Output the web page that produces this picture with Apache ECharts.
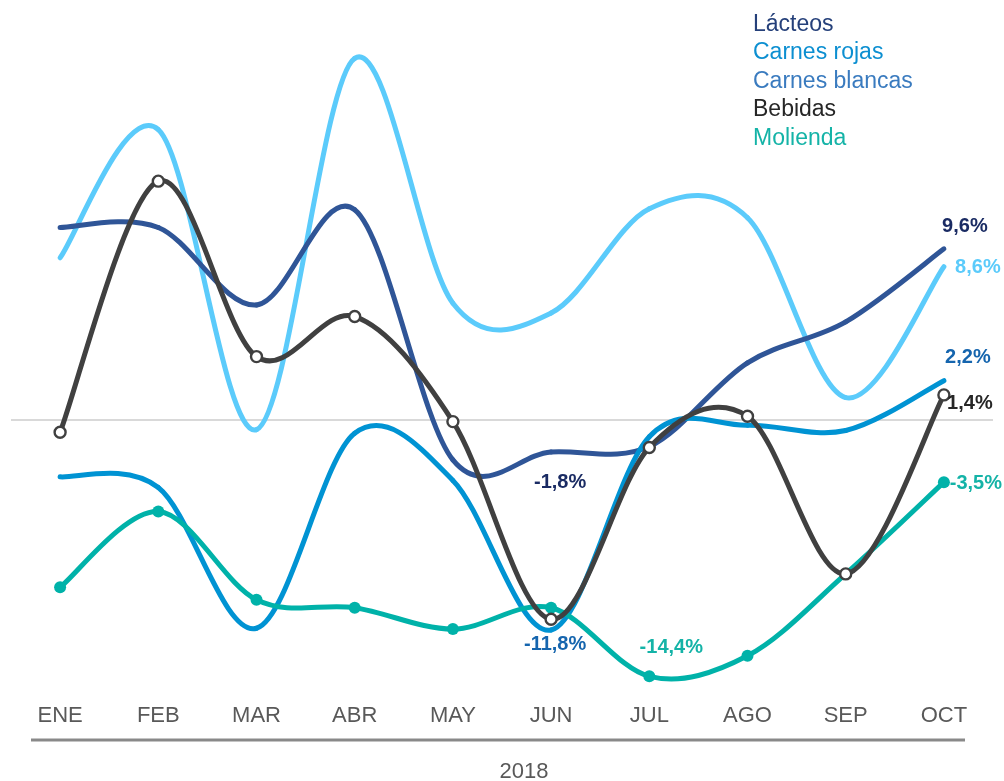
<!DOCTYPE html>
<html><head><meta charset="utf-8">
<script src="https://cdn.jsdelivr.net/npm/echarts@6/dist/echarts.min.js"></script>
<style>html,body{margin:0;padding:0;background:#fff}#c{width:1004px;height:781px}</style>
</head><body><div id="c"></div>
<script>
// ---- data ----
const months = ['ENE','FEB','MAR','ABR','MAY','JUN','JUL','AGO','SEP','OCT'];
const yearLabel = '2018';
const seriesNames = ['Lácteos','Carnes rojas','Carnes blancas','Bebidas','Molienda'];
const lacteos       = [10.8, 10.8, 6.45, 11.8, -2.25, -1.8, -1.5, 3.2, 5.5, 9.6];
const carnesRojas   = [-3.2, -3.8, -11.7, -0.75, -3.4, -11.8, -0.95, -0.3, -0.6, 2.2];
const carnesBlancas = [9.1, 16.3, -0.55, 20.3, 6.55, 6.0, 11.85, 11.35, 1.25, 8.6];
const bebidas       = [-0.7, 13.4, 3.55, 5.8, -0.1, -11.2, -1.55, 0.2, -8.65, 1.4];
const molienda      = [-9.4, -5.15, -10.1, -10.55, -11.75, -10.55, -14.4, -13.25, -8.65, -3.5];

// ---- styles ----
const FONT = '"Liberation Sans", Arial, sans-serif';
const LINE_W = 5;
const lineColors = {'Lácteos':'#2F5597','Carnes rojas':'#0093D3','Carnes blancas':'#5BCBFB','Bebidas':'#404040','Molienda':'#00B2A9'};
const legendColors = {'Lácteos':'#25407A','Carnes rojas':'#0C8FD1','Carnes blancas':'#3A7BBF','Bebidas':'#262626','Molienda':'#14B3A7'};
// labelled points: index -> [offsetX, offsetY, color]
const labelSpots = {
  'Lácteos':       {5:[9,31,'#1A2B63'], 9:[21,-22,'#1A2B63']},
  'Carnes rojas':  {5:[4,14,'#1565AE'], 9:[24,-23,'#1565AE']},
  'Carnes blancas':{9:[34,1,'#5BCBFB']},
  'Bebidas':       {9:[26,9,'#262626']},
  'Molienda':      {6:[22,-29,'#14B3A7'], 9:[32,1,'#14B3A7']}
};
const fmt = v => v.toFixed(1).replace('.', ',') + '%';

function buildData(name, values) {
  const spots = labelSpots[name] || {};
  return values.map((v, i) => {
    const s = spots[i];
    if (!s) return {value: v};
    return {value: v, label: {show: true, position: 'inside', offset: [s[0], s[1]],
      color: s[2], fontWeight: 'bold', fontSize: 20, fontFamily: FONT, formatter: p => fmt(p.value)}};
  });
}

// smooth curve (Catmull-Rom style, like spreadsheet smoothing) through the data points,
// every segment placed with the chart's own coordinate system (api.coord)
function curveSeries(name, values, z) {
  const n = values.length;
  return {
    name, type: 'custom', z, silent: true, clip: false,
    data: values.map((v, i) => [i, v]),
    encode: {x: 0, y: 1},
    renderItem: (params, api) => {
      const i = params.dataIndex;
      if (i >= n - 1) return {type: 'group', children: []};
      const P = j => { const k = Math.max(0, Math.min(n - 1, j)); return api.coord([k, values[k]]); };
      const p0 = P(i - 1), p1 = P(i), p2 = P(i + 1), p3 = P(i + 2);
      return {
        type: 'bezierCurve',
        shape: {
          x1: p1[0], y1: p1[1], x2: p2[0], y2: p2[1],
          cpx1: p1[0] + (p2[0] - p0[0]) / 6, cpy1: p1[1] + (p2[1] - p0[1]) / 6,
          cpx2: p2[0] - (p3[0] - p1[0]) / 6, cpy2: p2[1] - (p3[1] - p1[1]) / 6
        },
        style: {stroke: lineColors[name], lineWidth: LINE_W, fill: null, lineCap: 'round'}
      };
    }
  };
}

// markers + labels at the data points
function pointSeries(name, values, z, marker) {
  const base = {
    name, type: 'line', data: buildData(name, values), z, clip: false,
    lineStyle: {width: 0, opacity: 0},
    label: {show: false},
    showSymbol: true, showAllSymbol: true,
    symbol: 'circle', symbolSize: 2,
    itemStyle: {color: lineColors[name]},
    emphasis: {disabled: true}, silent: true
  };
  if (marker === 'hollow') {
    base.symbolSize = 11;
    base.itemStyle = {color: '#ffffff', borderColor: lineColors[name], borderWidth: 2.4};
  } else if (marker === 'filled') {
    base.symbolSize = 12;
    base.itemStyle = {color: lineColors[name], borderWidth: 0};
  }
  return base;
}

const series = [
  curveSeries('Carnes blancas', carnesBlancas, 2),
  curveSeries('Lácteos', lacteos, 3),
  curveSeries('Carnes rojas', carnesRojas, 4),
  curveSeries('Molienda', molienda, 5),
  curveSeries('Bebidas', bebidas, 7),
  Object.assign(pointSeries('Carnes blancas', carnesBlancas, 2.5), {
    markLine: {silent: true, symbol: 'none', z: 1, label: {show: false}, animation: false,
      lineStyle: {color: '#D9D9D9', width: 2, type: 'solid'}, data: [{yAxis: 0}]}
  }),
  pointSeries('Lácteos', lacteos, 3.5),
  pointSeries('Carnes rojas', carnesRojas, 4.5),
  pointSeries('Molienda', molienda, 6, 'filled'),
  pointSeries('Bebidas', bebidas, 8, 'hollow')
];

const chart = echarts.init(document.getElementById('c'), null, {renderer: 'canvas'});
chart.setOption({
  animation: false,
  backgroundColor: '#ffffff',
  textStyle: {fontFamily: FONT},
  grid: {left: 11, right: 11, top: 28, bottom: 94, containLabel: false, outerBoundsMode: 'none'},
  legend: {
    orient: 'vertical', left: 743, top: 5, itemGap: 0, itemWidth: 0, itemHeight: 0,
    icon: 'rect', selectedMode: false,
    textStyle: {fontSize: 23, lineHeight: 28.5, fontFamily: FONT},
    data: seriesNames.map(n => ({name: n, textStyle: {color: legendColors[n]}}))
  },
  xAxis: {
    type: 'category', data: months, boundaryGap: true,
    axisLine: {show: false}, axisTick: {show: false},
    axisLabel: {color: '#595959', fontSize: 22, margin: 18, fontFamily: FONT},
    name: yearLabel, nameLocation: 'middle', nameGap: 74,
    nameTextStyle: {color: '#595959', fontSize: 22, fontFamily: FONT, padding: [0, 0, 0, 44]}
  },
  yAxis: {type: 'value', min: -15, max: 22, show: false, splitLine: {show: false}},
  graphic: [{
    type: 'line', shape: {x1: 31, y1: 740, x2: 965, y2: 740},
    style: {stroke: '#898989', lineWidth: 3}, silent: true
  }],
  series
});
</script></body></html>
